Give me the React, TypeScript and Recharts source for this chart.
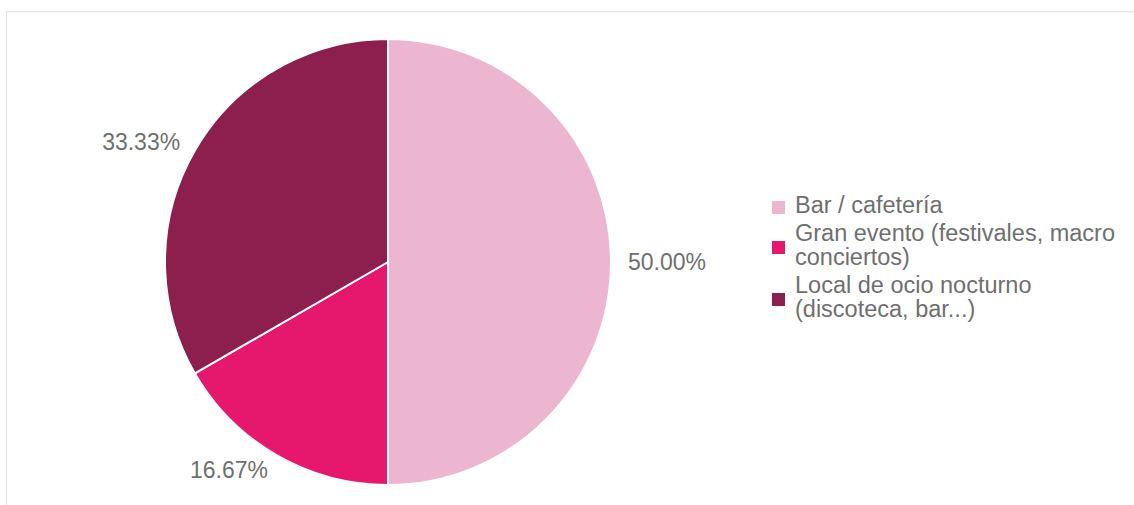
import { PieChart, Pie, Cell, Legend } from 'recharts';

const categories = [
  'Bar / cafetería',
  'Gran evento (festivales, macro\nconciertos)',
  'Local de ocio nocturno\n(discoteca, bar...)',
];
const shares = [50.0, 16.67, 33.33];
const colors = ['#ecb6d1', '#e6186e', '#8c1f4d'];

const FONT = '"Liberation Sans", Arial, sans-serif';
const RADIAN = Math.PI / 180;

const data = categories.map((name, i) => ({ name, value: shares[i] }));

// percentage label placed just outside the slice, anchored away from the pie
const renderLabel = (props: any) => {
  const { cx, cy, midAngle, outerRadius, percent } = props;
  const r = outerRadius + 17;
  const x = cx + r * Math.cos(-midAngle * RADIAN);
  const y = cy + r * Math.sin(-midAngle * RADIAN);
  return (
    <text
      x={x}
      y={y}
      fill="#6f6f6f"
      fontSize={23}
      fontFamily={FONT}
      textAnchor={x > cx ? 'start' : 'end'}
      dominantBaseline="central"
    >
      {(percent * 100).toFixed(2)}%
    </text>
  );
};

const renderLegend = (props: any) => {
  const payload = props.payload || [];
  return (
    <div style={{ fontFamily: FONT, fontSize: 23.5, lineHeight: '24px', color: '#6f6f6f' }}>
      {payload.map((entry: any, i: number) => (
        <div key={i} style={{ display: 'flex', alignItems: 'center', marginBottom: 4 }}>
          <span
            style={{
              width: 13,
              height: 13,
              background: entry.color,
              marginRight: 10,
              marginTop: 4,
              flexShrink: 0,
            }}
          />
          <span style={{ whiteSpace: 'pre-line' }}>{entry.value}</span>
        </div>
      ))}
    </div>
  );
};

export default function App() {
  return (
    <div style={{ position: 'absolute', left: 0, top: 0, width: 1134, height: 505, background: '#fff', overflow: 'hidden' }}>
      <div
        style={{
          position: 'absolute',
          left: 6,
          top: 11,
          width: 1140,
          height: 510,
          borderTop: '1px solid #e4e4e4',
          borderLeft: '1px solid #e4e4e4',
          boxShadow: 'inset 0 2px 3px rgba(0,0,0,0.03)',
        }}
      />
      <PieChart width={1134} height={505} style={{ position: 'absolute', left: 0, top: 0 }}>
        <Pie
          data={data}
          dataKey="value"
          nameKey="name"
          cx={383}
          cy={257}
          outerRadius={223}
          startAngle={90}
          endAngle={-270}
          stroke="#ffffff"
          strokeWidth={2}
          label={renderLabel}
          labelLine={false}
          isAnimationActive={false}
        >
          {data.map((d, i) => (
            <Cell key={d.name} fill={colors[i]} />
          ))}
        </Pie>
        <Legend
          layout="vertical"
          content={renderLegend}
          wrapperStyle={{ position: 'absolute', left: 772, top: 193, width: 360 }}
        />
      </PieChart>
    </div>
  );
}
